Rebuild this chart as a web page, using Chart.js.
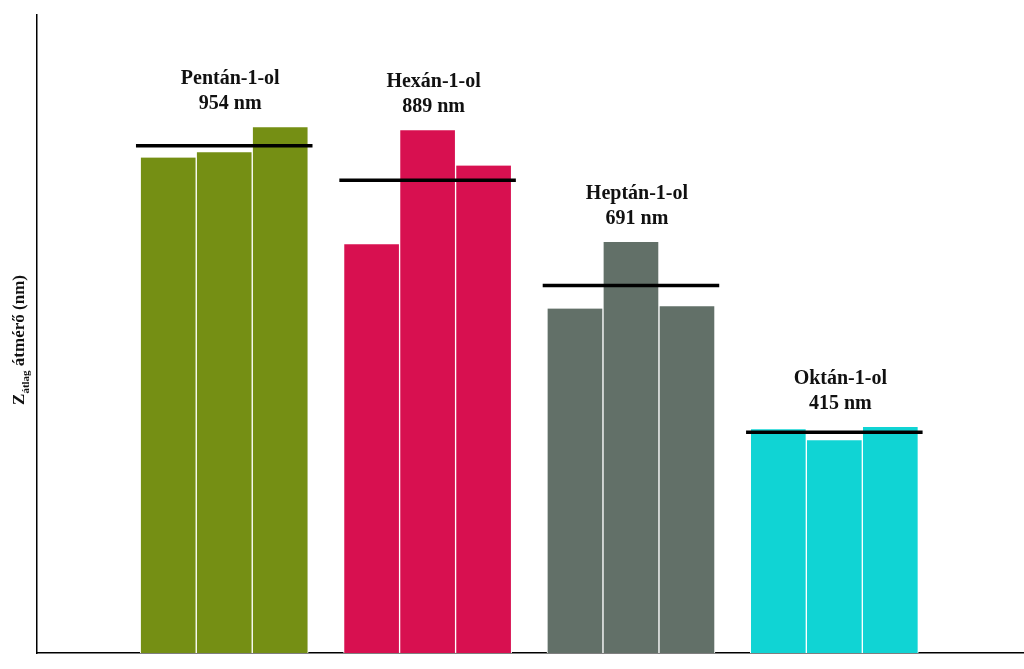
<!DOCTYPE html>
<html>
<head>
<meta charset="utf-8">
<script src="https://cdn.jsdelivr.net/npm/chart.js@4/dist/chart.umd.min.js"></script>
<style>
  html, body { margin: 0; padding: 0; background: #fff; }
  #wrap { width: 1024px; height: 669px; }
</style>
</head>
<body>
<div id="wrap"><canvas id="c"></canvas></div>
<script>
// adatok
const groups = ['Pentán-1-ol', 'Hexán-1-ol', 'Heptán-1-ol', 'Oktán-1-ol'];
const means = [954, 889, 691, 415];
const run1 = [932, 769, 648, 421];
const run2 = [942, 983, 773, 400];
const run3 = [989, 917, 652, 425];
const colors = ['#758f14', '#d81050', '#627068', '#10d4d4'];

const halfLine = 0.434;

function barSet(vals) {
    return {
        type: 'bar',
        data: vals.map((v, i) => ({ x: i, y: v })),
        backgroundColor: colors,
        borderColor: '#ffffff',
        borderWidth: { left: 1, right: 1, top: 0, bottom: 0 },
        borderSkipped: false,
        barThickness: 56,
        order: 2
    };
}

// átlagvonalak: egy szakasz csoportonként, null-lal elválasztva
const meanPts = [];
means.forEach((m, i) => {
    meanPts.push({ x: i - halfLine, y: m }, { x: i + halfLine, y: m }, { x: i + 0.5, y: null });
});

const labelPlugin = {
    id: 'labels',
    afterDatasetsDraw(chart) {
        const ctx = chart.ctx;
        const xs = chart.scales.x, ys = chart.scales.y;
        ctx.save();
        ctx.fillStyle = '#111';
        ctx.font = 'bold 20px "Liberation Serif"';
        ctx.textAlign = 'center';
        groups.forEach((g, i) => {
            const top = Math.max(run1[i], run2[i], run3[i]);
            const yb = ys.getPixelForValue(top) - 24;
            const x = xs.getPixelForValue(i) + 6;
            ctx.fillText(means[i] + ' nm', x, yb + 6);
            ctx.fillText(g, x, yb - 19);
        });
        // tengelycím
        ctx.translate(24, 340);
        ctx.rotate(-Math.PI / 2);
        ctx.textAlign = 'left';
        const a = 'Z', b = 'átlag', c = ' átmérő (nm)';
        ctx.font = 'bold 17px "Liberation Serif"';
        const wa = ctx.measureText(a).width;
        const wc = ctx.measureText(c).width;
        ctx.font = 'bold 11px "Liberation Serif"';
        const wb = ctx.measureText(b).width;
        let x0 = -(wa + wb + wc) / 2;
        ctx.font = 'bold 17px "Liberation Serif"';
        ctx.fillText(a, x0, 0);
        ctx.font = 'bold 11px "Liberation Serif"';
        ctx.fillText(b, x0 + wa, 5);
        ctx.font = 'bold 17px "Liberation Serif"';
        ctx.fillText(c, x0 + wa + wb, 0);
        ctx.restore();
    }
};

new Chart(document.getElementById('c'), {
    data: {
        datasets: [
            barSet(run1), barSet(run2), barSet(run3),
            {
                type: 'line',
                data: meanPts,
                borderColor: '#000',
                borderWidth: 3.5,
                pointRadius: 0,
                spanGaps: false,
                order: 1
            }
        ]
    },
    options: {
        responsive: true,
        maintainAspectRatio: false,
        animation: false,
        layout: { padding: { left: 29, top: 15, bottom: 8, right: 0 } },
        plugins: { legend: { display: false }, tooltip: { enabled: false } },
        scales: {
            x: {
                type: 'linear', min: -0.678, max: 3.69,
                ticks: { display: false }, grid: { display: false },
                border: { display: true, color: '#000', width: 1.5 }
            },
            y: {
                min: 0, max: 1200,
                ticks: { display: false }, grid: { display: false },
                border: { display: true, color: '#000', width: 1.5 }
            }
        }
    },
    plugins: [labelPlugin]
});
</script>
</body>
</html>
